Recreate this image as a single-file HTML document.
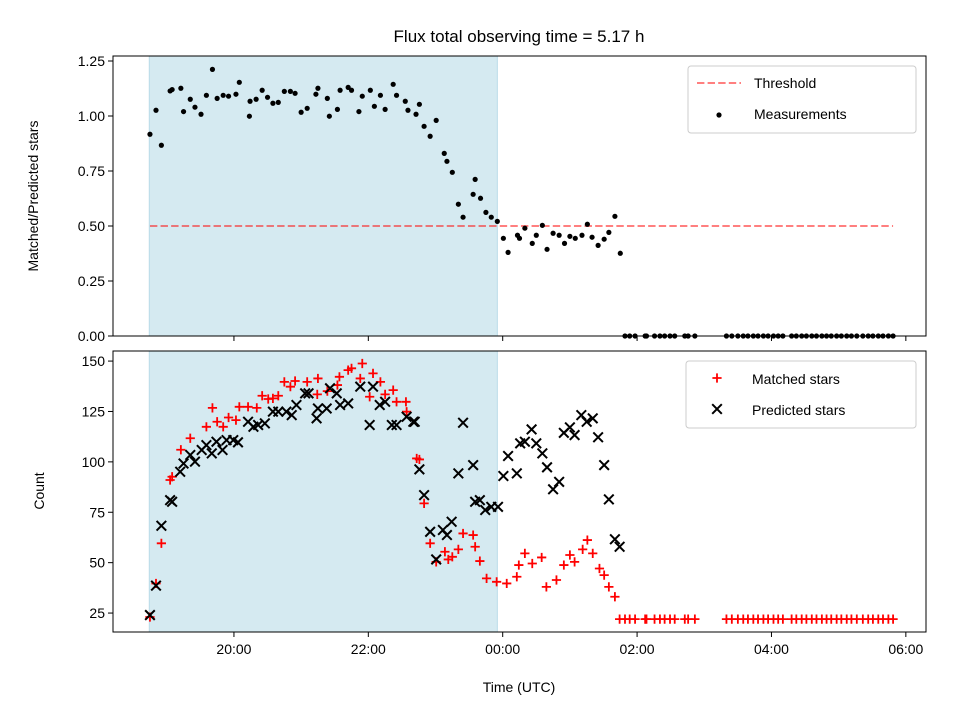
<!DOCTYPE html>
<html><head><meta charset="utf-8"><style>
html,body{margin:0;padding:0;background:#fff;}
svg{display:block;font-family:"Liberation Sans","DejaVu Sans",sans-serif;}
</style></head><body>
<svg id="chart" width="960" height="720" viewBox="0 0 960 720" xmlns="http://www.w3.org/2000/svg"></svg>
<script>
// ---- data ----
const ratioTimes=[18.75,18.84,18.92,19.05,19.08,19.21,19.25,19.35,19.42,19.51,19.59,19.68,19.75,19.84,19.92,20.03,20.08,20.23,20.24,20.33,20.42,20.50,20.58,20.66,20.75,20.84,20.91,21.00,21.09,21.22,21.25,21.39,21.42,21.54,21.58,21.70,21.75,21.86,21.91,22.03,22.09,22.18,22.25,22.37,22.42,22.55,22.59,22.71,22.76,22.83,22.92,23.01,23.13,23.17,23.25,23.34,23.41,23.56,23.59,23.67,23.75,23.83,23.92,24.01,24.08,24.22,24.25,24.33,24.44,24.50,24.59,24.66,24.75,24.84,24.92,25.00,25.08,25.18,25.26,25.33,25.42,25.51,25.58,25.67,25.75];
const ratioValues=[0.917,1.026,0.867,1.114,1.12,1.126,1.02,1.076,1.04,1.008,1.094,1.212,1.08,1.094,1.09,1.099,1.153,0.999,1.067,1.076,1.117,1.085,1.058,1.062,1.112,1.112,1.103,1.017,1.035,1.099,1.126,1.08,0.999,1.03,1.117,1.13,1.117,1.02,1.09,1.117,1.044,1.094,1.03,1.144,1.094,1.067,1.026,1.008,1.053,0.953,0.908,0.98,0.830,0.794,0.744,0.599,0.540,0.644,0.712,0.626,0.562,0.540,0.521,0.444,0.380,0.458,0.444,0.490,0.421,0.458,0.503,0.394,0.467,0.458,0.421,0.453,0.444,0.458,0.508,0.449,0.412,0.440,0.471,0.544,0.376];
const zeroTimes=[25.82,25.89,25.97,26.12,26.14,26.26,26.34,26.41,26.49,26.56,26.71,26.76,26.86,27.33,27.41,27.50,27.58,27.65,27.73,27.80,27.88,27.95,28.03,28.10,28.17,28.30,28.37,28.45,28.52,28.60,28.67,28.75,28.82,28.89,28.97,29.04,29.12,29.19,29.27,29.36,29.44,29.51,29.59,29.66,29.74,29.81];
const zeroRatio=0;
const zeroMatched=22;
const matchedTimes=[18.75,18.84,18.92,19.05,19.08,19.21,19.35,19.59,19.68,19.75,19.84,19.92,20.03,20.08,20.21,20.34,20.42,20.51,20.58,20.66,20.75,20.84,20.91,21.09,21.24,21.25,21.39,21.54,21.57,21.70,21.75,21.88,21.91,22.02,22.07,22.18,22.25,22.37,22.42,22.56,22.57,22.72,22.76,22.83,22.92,23.01,23.14,23.19,23.25,23.34,23.41,23.56,23.59,23.66,23.76,23.91,24.06,24.21,24.24,24.33,24.44,24.58,24.65,24.80,24.91,25.00,25.07,25.19,25.26,25.34,25.44,25.51,25.58,25.67,25.74];
const matchedValues=[23,39.7,59.6,91,92.6,106,111.7,117.4,126.8,119.9,117.4,122,120.7,127.3,127.3,126.8,132.8,131.2,131.5,132.8,139.7,137.3,140.1,139.7,133.5,141.4,135.1,138.1,142.2,145.5,146.4,141.4,148.8,132.3,143.9,139.7,133.5,135.6,129.8,129.8,124.9,101.7,101.2,79.4,59.6,50.4,55.4,51.6,52.9,56.6,64.5,63.7,57.9,50.8,42.2,40.5,39.7,43,48.8,54.6,49.6,52.6,38,41.4,48.8,53.8,50.4,56.6,61.2,54.6,47.1,43.8,38,33.1,22];
const predictedTimes=[18.75,18.84,18.92,19.05,19.08,19.20,19.25,19.35,19.42,19.52,19.59,19.67,19.74,19.83,19.89,19.99,20.06,20.21,20.29,20.36,20.46,20.58,20.66,20.78,20.86,20.93,21.06,21.11,21.23,21.25,21.38,21.43,21.53,21.58,21.70,21.88,22.02,22.07,22.17,22.25,22.35,22.42,22.57,22.67,22.69,22.76,22.83,22.92,23.01,23.11,23.17,23.24,23.34,23.41,23.56,23.59,23.66,23.74,23.83,23.93,24.01,24.08,24.21,24.26,24.33,24.43,24.50,24.59,24.66,24.75,24.84,24.91,25.00,25.07,25.17,25.25,25.34,25.42,25.51,25.58,25.67,25.74];
const predictedValues=[24,38.6,68.3,81,80.2,95.1,99.2,103.4,100.1,105.9,108.3,104.2,110,105.9,110.8,110.8,109.7,119.9,117.4,118.3,119.1,124.9,124.9,124.9,123.2,128.2,134,134,121.6,126.5,126.5,136.5,134,128.2,129,137.3,118.3,137.3,128.2,129.8,118.3,118.3,122.4,119.9,119.9,96.3,83.5,65.3,51.6,66.2,63.7,70.3,94.3,119.4,98.4,80.2,81,76.1,77.7,77.7,93,102.9,94.3,109.2,110,116.1,109.2,104.2,97.3,86.4,90.1,114.4,117.1,113.3,123.2,119.9,121.6,112.2,98.4,81.4,61.6,57.9];
const xTicks=[20,22,24,26,28,30];
const xTickLabels=["20:00","22:00","00:00","02:00","04:00","06:00"];
const topTicks=[0,0.25,0.5,0.75,1.0,1.25];
const topTickLabels=["0.00","0.25","0.50","0.75","1.00","1.25"];
const botTicks=[25,50,75,100,125,150];
const botTickLabels=["25","50","75","100","125","150"];
const threshold=0.5;
const spanStart=18.74, spanEnd=23.92;

// ---- layout ----
const L=113,R=926,T1=56,B1=336,T2=351,B2=632;
const X0=18.2,X1=30.3;
const xs=h=>L+(h-X0)/(X1-X0)*(R-L);
const y1=v=>B1-(v-0)/(1.2727-0)*(B1-T1);
const y2=v=>B2-(v-15.6)/(155-15.6)*(B2-T2);
const svg=document.getElementById('chart');
const NS='http://www.w3.org/2000/svg';
function mk(tag,attrs,parent,text){const e=document.createElementNS(NS,tag);for(const k in attrs)e.setAttribute(k,attrs[k]);if(text!==undefined)e.textContent=text;(parent||svg).appendChild(e);return e;}

function panel(T,B,ys,ticks,labels,name){
  const g=mk('g',{});
  
  
  const sp=mk('rect',{x:xs(spanStart),y:T,width:xs(spanEnd)-xs(spanStart),height:B-T,fill:'#d5eaf1',stroke:'#b9dbe8','stroke-width':1},g);
  
  
  ticks.forEach((t,i)=>{
    const y=ys(t);
    mk('line',{x1:L-5,x2:L,y1:y,y2:y,stroke:'#000','stroke-width':1},g);
    const tl=mk('text',{x:L-8,y:y+5,'text-anchor':'end','font-size':14},g,labels[i]);
    
    
  });
  xTicks.forEach(t=>{mk('line',{x1:xs(t),x2:xs(t),y1:B,y2:B+5,stroke:'#000','stroke-width':1},g);});
  return g;
}
const g1=panel(T1,B1,y1,topTicks,topTickLabels,'ratio-panel');
const g2=panel(T2,B2,y2,botTicks,botTickLabels,'count-panel');

// threshold
const th=mk('line',{x1:xs(ratioTimes[0]),x2:xs(zeroTimes[zeroTimes.length-1]),y1:y1(threshold),y2:y1(threshold),stroke:'#ff0000','stroke-opacity':0.5,'stroke-width':2,'stroke-dasharray':'7.4,3.2'},g1);


// measurements
function dot(t,v){const c=mk('circle',{cx:xs(t),cy:y1(v),r:2.6,fill:'#000'},g1);

}
ratioTimes.forEach((t,i)=>dot(t,ratioValues[i]));
zeroTimes.forEach(t=>dot(t,zeroRatio));

// bottom markers
function plus(t,v){const x=xs(t),y=y2(v),s=4.6;const p=mk('path',{d:`M${x-s},${y}H${x+s}M${x},${y-s}V${y+s}`,stroke:'#ff0000','stroke-width':1.8,fill:'none'},g2);

}
function cross(t,v){const x=xs(t),y=y2(v),s=4.8;const p=mk('path',{d:`M${x-s},${y-s}L${x+s},${y+s}M${x-s},${y+s}L${x+s},${y-s}`,stroke:'#000','stroke-width':2,fill:'none'},g2);

}
matchedTimes.forEach((t,i)=>plus(t,matchedValues[i]));
zeroTimes.forEach(t=>plus(t,zeroMatched));
predictedTimes.forEach((t,i)=>cross(t,predictedValues[i]));

// frames
mk('rect',{x:L,y:T1,width:R-L,height:B1-T1,fill:'none',stroke:'#000','stroke-width':1});
mk('rect',{x:L,y:T2,width:R-L,height:B2-T2,fill:'none',stroke:'#000','stroke-width':1});
xTicks.forEach((t,i)=>{const tl=mk('text',{x:xs(t),y:B2+22,'text-anchor':'middle','font-size':14},svg,xTickLabels[i]);

});

// legends
function legend(x,y,w,h,name){const r=mk('rect',{x:x,y:y,width:w,height:h,rx:3,fill:'#fff','fill-opacity':0.8,stroke:'#ccc','stroke-width':1});

}
legend(688,66,228,67,'ratio-legend');
mk('line',{x1:697,x2:741,y1:83,y2:83,stroke:'#ff0000','stroke-opacity':0.5,'stroke-width':2,'stroke-dasharray':'7.4,3.2'});
mk('circle',{cx:719,cy:115,r:2.6,fill:'#000'});
legend(686,361,230,67,'count-legend');
plus(24.3,155-(378-351)/2.016);
</script>
<text></text>
<script>
// legend markers for bottom placed directly
const svg2=document.getElementById('chart');
</script>
<svg width="0" height="0"></svg>
<script>
(function(){
const NS='http://www.w3.org/2000/svg';
const s=document.getElementById('chart');
// remove stray plus used above (last child path)
const paths=s.querySelectorAll('path');
const last=paths[paths.length-1];
last.parentNode.removeChild(last);
function el(tag,a,txt){const e=document.createElementNS(NS,tag);for(const k in a)e.setAttribute(k,a[k]);if(txt!==undefined)e.textContent=txt;s.appendChild(e);return e;}
el('path',{d:'M712.4,378H721.6M717,373.4V382.6',stroke:'#ff0000','stroke-width':1.8,fill:'none'});
el('path',{d:'M712.2,404.2L721.8,413.8M712.2,413.8L721.8,404.2',stroke:'#000','stroke-width':2,fill:'none'});
const items=[['Threshold',754,88,'legend-threshold'],['Measurements',754,119,'legend-measurements'],['Matched stars',752,384,'legend-matched'],['Predicted stars',752,415,'legend-predicted']];
items.forEach(it=>{const t=el('text',{x:it[1],y:it[2],'font-size':14},it[0]);

});
const title=el('text',{x:519,y:42,'text-anchor':'middle','font-size':17},'Flux total observing time = 5.17 h');


const xl=el('text',{x:519,y:692,'text-anchor':'middle','font-size':14},'Time (UTC)');


const yl1=el('text',{x:0,y:0,'text-anchor':'middle','font-size':14,transform:'translate(38,196) rotate(-90)'},'Matched/Predicted stars');


const yl2=el('text',{x:0,y:0,'text-anchor':'middle','font-size':14,transform:'translate(44,491) rotate(-90)'},'Count');


})();
</script>
</body></html>
